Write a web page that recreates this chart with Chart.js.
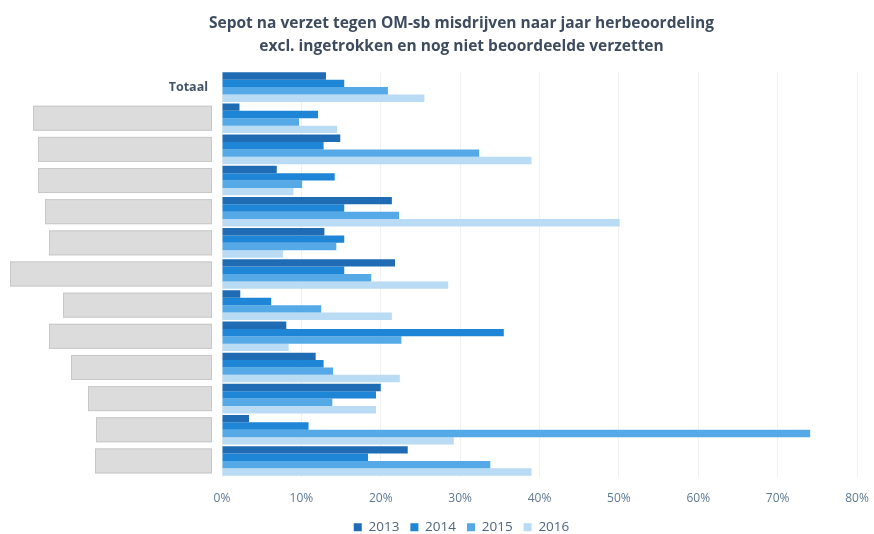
<!DOCTYPE html>
<html>
<head>
<meta charset="utf-8">
<script src="https://cdn.jsdelivr.net/npm/chart.js@4.4.1/dist/chart.umd.min.js"></script>
<style>
  html, body { margin: 0; padding: 0; background: #fff; }
  #wrap { width: 874px; height: 534px; position: relative; }
</style>
</head>
<body>
<div id="wrap"><canvas id="chart"></canvas></div>
<script>
// categories (all but the total are blacked out in the source)
const categories = ['Totaal', '', '', '', '', '', '', '', '', '', '', '', ''];
const years = ['2013', '2014', '2015', '2016'];

// share of sepot after verzet, in percent
const values2013 = [13.1, 2.2, 14.9, 6.9, 21.4, 12.9, 21.8, 2.3, 8.1, 11.8, 20.0, 3.4, 23.4];
const values2014 = [15.4, 12.1, 12.8, 14.2, 15.4, 15.4, 15.4, 6.2, 35.5, 12.8, 19.4, 10.9, 18.4];
const values2015 = [20.9, 9.7, 32.4, 10.1, 22.3, 14.4, 18.8, 12.5, 22.6, 14.0, 13.9, 74.1, 33.8];
const values2016 = [25.5, 14.5, 39.0, 9.0, 50.1, 7.7, 28.5, 21.4, 8.4, 22.4, 19.4, 29.2, 39.0];

const xTicks = [0, 10, 20, 30, 40, 50, 60, 70, 80];

const colors = ['#1f6cb5', '#1f85d6', '#55a9e6', '#b9dbf3'];
const series = [values2013, values2014, values2015, values2016];

// left edge of the grey redaction boxes, one per blanked label
const redactLeft = [null, 33, 38, 38, 45, 49, 10, 63, 49, 71, 88, 96, 95];

const redactPlugin = {
    id: 'redact',
    afterDraw(chart) {
        const ctx = chart.ctx;
        const y = chart.scales.y;
        ctx.save();
        categories.forEach((c, i) => {
            if (redactLeft[i] == null) return;
            const cy = y.getPixelForValue(i);
            const right = 212;
            ctx.fillStyle = '#dcdcdc';
            ctx.strokeStyle = '#c8c8c8';
            ctx.lineWidth = 1;
            ctx.fillRect(redactLeft[i], cy - 12.5, right - redactLeft[i], 25);
            ctx.strokeRect(redactLeft[i] + 0.5, cy - 12, right - redactLeft[i] - 1, 24);
        });
        ctx.restore();
    }
};

new Chart(document.getElementById('chart'), {
    type: 'bar',
    data: {
        labels: categories,
        datasets: years.map((yr, i) => ({
            label: yr,
            data: series[i],
            backgroundColor: colors[i],
            borderWidth: 0,
            barPercentage: 1.0,
            categoryPercentage: 0.95
        }))
    },
    options: {
        indexAxis: 'y',
        responsive: true,
        maintainAspectRatio: false,
        animation: false,
        layout: {
            padding: {left: 66, right: 17, top: 6, bottom: -10}
        },
        scales: {
            x: {
                min: 0,
                max: 80,
                afterBuildTicks(scale) {
                    scale.ticks = xTicks.map(v => ({value: v}));
                },
                afterFit(scale) {
                    scale.height = 33;
                    scale.paddingLeft = 0;
                    scale.paddingRight = 0;
                },
                ticks: {
                    callback: v => v + '%',
                    color: '#5f7a93',
                    font: {family: 'Open Sans', size: 12},
                    padding: 15
                },
                grid: {
                    color: '#f0f0f0',
                    drawTicks: false
                },
                border: {display: false}
            },
            y: {
                afterFit(scale) {
                    scale.width = 156;
                },
                ticks: {
                    color: '#44546a',
                    font: {family: 'Open Sans', size: 12.5, weight: 'bold'},
                    padding: 6
                },
                grid: {display: false},
                border: {display: false}
            }
        },
        plugins: {
            title: {
                display: true,
                text: ['Sepot na verzet tegen OM-sb misdrijven naar jaar herbeoordeling',
                       'excl. ingetrokken en nog niet beoordeelde verzetten'],
                color: '#3e4b5e',
                font: {family: 'Open Sans', size: 15.5, weight: 'bold', lineHeight: 1.5},
                padding: {top: 6, bottom: 13}
            },
            legend: {
                position: 'bottom',
                labels: {
                    boxWidth: 8,
                    boxHeight: 8,
                    padding: 11,
                    color: '#50657d',
                    font: {family: 'Open Sans', size: 13.5}
                }
            },
            tooltip: {enabled: false}
        }
    },
    plugins: [redactPlugin]
});
</script>
</body>
</html>
